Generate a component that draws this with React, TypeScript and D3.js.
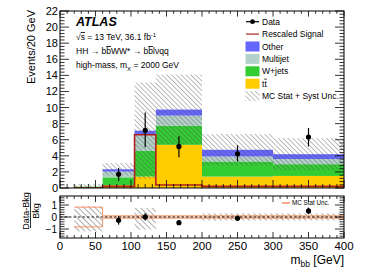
import { useEffect } from 'react';
import * as d3 from 'd3';

// bin edges in GeV
const binEdges = [20, 60, 105, 135, 200, 300, 400];

// stacked backgrounds (Events/20 GeV), bottom to top
const ttbar = [0.02, 0.35, 1.42, 5.37, 1.42, 1.5];
const wjets = [0.15, 0.98, 3.2, 2.38, 1.88, 1.46];
const multijet = [0, 0.71, 2.08, 1.25, 0.62, 0.64];
const other = [0, 0.29, 0.42, 0.75, 0.83, 0.6];
const bkgUnc = [0.33, 0.77, 6.0, 4.35, 1.95, 2.0];
const signal = [0, 0.2, 6.62, 0.37, 0.2, 0.2];

// data points
const dataX = [82.5, 120, 167.5, 250, 350];
const dataY = [1.7, 7.17, 5.17, 4.25, 6.33];
const dataErrUp = [0.8, 2.2, 1.25, 1.05, 1.13];
const dataErrDn = [0.85, 2.1, 1.35, 0.95, 1.16];
const dataBin = [1, 2, 3, 4, 5];

// ratio panel bands
const ratioStat = [0.82, 0.1, 0.1, 0.1, 0.1, 0.1];
const ratioHatchUp = [0.9, 0, 0.75, 0, 0.3, 0.3];
const ratioHatchDn = [1.2, 0, 1.05, 0, 0.3, 0.3];

const xTicks = [0, 50, 100, 150, 200, 250, 300, 350, 400];
const yTicks = [0, 2, 4, 6, 8, 10, 12, 14, 16, 18, 20, 22];
const rTicks = [-1, 0, 1];

const COLORS = {
  ttbar: '#ffcc00',
  wjets: '#33cc33',
  multijet: '#b3d1c9',
  other: '#6666ff',
  signal: '#b01e1e',
  stat: '#f7966b',
};

const FONT = '"Liberation Sans", Arial, Helvetica, sans-serif';

const L = 60;
const R = 344;
const MT = 11;
const MB = 188;
const RT = 196;
const RB = 238;

export default function App() {
  useEffect(() => {
    document.body.style.margin = '0';
  }, []);

  const x = d3.scaleLinear().domain([0, 400]).range([L, R]);
  const y = d3.scaleLinear().domain([0, 22]).range([MB, MT]);
  const yr = d3.scaleLinear().domain([-1.75, 1.75]).range([RB, RT]);

  const bins = binEdges.slice(0, -1).map((lo, i) => ({ lo, hi: binEdges[i + 1], i }));

  const stacks = [ttbar, wjets, multijet, other];
  const stackColors = [COLORS.ttbar, COLORS.wjets, COLORS.multijet, COLORS.other];
  const total = bins.map((b) => stacks.reduce((s, a) => s + a[b.i], 0));

  const stackRects: JSX.Element[] = [];
  bins.forEach((b) => {
    let base = 0;
    stacks.forEach((arr, k) => {
      const v = arr[b.i];
      if (v > 0) {
        stackRects.push(
          <rect
            key={`s${b.i}-${k}`}
            x={x(b.lo)}
            width={x(b.hi) - x(b.lo)}
            y={y(base + v)}
            height={y(base) - y(base + v)}
            fill={stackColors[k]}
          />
        );
      }
      base += v;
    });
  });

  // signal step line
  const sigPts: [number, number][] = [];
  bins.forEach((b) => {
    sigPts.push([b.lo, signal[b.i]]);
    sigPts.push([b.hi, signal[b.i]]);
  });
  const sigLine = d3
    .line<[number, number]>()
    .x((d) => x(d[0]))
    .y((d) => y(d[1]))(sigPts);

  // stat band step lines in ratio
  const statPts: [number, number][] = [];
  bins.forEach((b) => {
    statPts.push([b.lo, ratioStat[b.i]]);
    statPts.push([b.hi, ratioStat[b.i]]);
  });
  const statUp = d3
    .line<[number, number]>()
    .x((d) => x(d[0]))
    .y((d) => yr(d[1]))(statPts);
  const statDn = d3
    .line<[number, number]>()
    .x((d) => x(d[0]))
    .y((d) => yr(-d[1]))(statPts);

  const ratioY = dataY.map((v, j) => (v - total[dataBin[j]]) / total[dataBin[j]]);
  const ratioUp = dataErrUp.map((e, j) => e / total[dataBin[j]]);
  const ratioDn = dataErrDn.map((e, j) => e / total[dataBin[j]]);

  // ticks for frames
  const ticks: JSX.Element[] = [];
  const tk = (key: string, x1: number, y1: number, x2: number, y2: number) =>
    ticks.push(<line key={key} x1={x1} y1={y1} x2={x2} y2={y2} stroke="#000" strokeWidth={0.8} />);

  d3.range(0, 401, 10).forEach((v) => {
    const major = v % 50 === 0;
    const px = x(v);
    const lm = major ? 8 : 4;
    tk(`mxb${v}`, px, MB, px, MB - lm);
    tk(`mxt${v}`, px, MT, px, MT + lm * 0.7);
    const lr = major ? 6 : 3;
    tk(`rxb${v}`, px, RB, px, RB - lr);
    tk(`rxt${v}`, px, RT, px, RT + lr);
  });
  d3.range(0, 22.001, 0.4).forEach((v) => {
    const major = Math.abs(v / 2 - Math.round(v / 2)) < 1e-6;
    const py = y(v);
    const l = major ? 9 : 4.5;
    tk(`myl${v}`, L, py, L + l, py);
    tk(`myr${v}`, R, py, R - l, py);
  });
  d3.range(-1.6, 1.601, 0.2).forEach((v) => {
    const major = Math.abs(v - Math.round(v)) < 1e-6;
    const py = yr(v);
    const l = major ? 9 : 4.5;
    tk(`ryl${v.toFixed(1)}`, L, py, L + l, py);
    tk(`ryr${v.toFixed(1)}`, R, py, R - l, py);
  });

  const legendRows = [
    { label: 'Data', kind: 'data' },
    { label: 'Rescaled Signal', kind: 'signal' },
    { label: 'Other', kind: 'box', color: COLORS.other },
    { label: 'Multijet', kind: 'box', color: COLORS.multijet },
    { label: 'W+jets', kind: 'box', color: COLORS.wjets },
    { label: 'tt', kind: 'box', color: COLORS.ttbar },
    { label: 'MC Stat + Syst Unc.', kind: 'hatch' },
  ];

  const over = { textDecoration: 'overline' };

  return (
    <svg width={374} height={272} style={{ display: 'block', fontFamily: FONT }}>
      <defs>
        <pattern id="hatch" patternUnits="userSpaceOnUse" width={3.4} height={3.4} patternTransform="rotate(-45)">
          <line x1={0} y1={0} x2={0} y2={3.4} stroke="#555" strokeWidth={0.8} />
        </pattern>
        <pattern id="hatchR" patternUnits="userSpaceOnUse" width={4} height={4} patternTransform="rotate(-45)">
          <line x1={0} y1={0} x2={0} y2={4} stroke="#444" strokeWidth={0.9} />
        </pattern>
        <clipPath id="mainClip">
          <rect x={L} y={MT} width={R - L} height={MB - MT} />
        </clipPath>
      </defs>
      <rect width={374} height={272} fill="#fff" />

      {/* main panel */}
      <g clipPath="url(#mainClip)">
        {stackRects}
        {bins.map((b) => (
          <rect
            key={`h${b.i}`}
            x={x(b.lo)}
            width={x(b.hi) - x(b.lo)}
            y={y(total[b.i] + bkgUnc[b.i])}
            height={y(Math.max(0, total[b.i] - bkgUnc[b.i])) - y(total[b.i] + bkgUnc[b.i])}
            fill="url(#hatch)"
          />
        ))}
        <path d={sigLine ?? ''} fill="none" stroke={COLORS.signal} strokeWidth={1.6} />
        {dataX.map((dx, j) => (
          <g key={`d${j}`}>
            <line
              x1={x(dx)}
              x2={x(dx)}
              y1={y(dataY[j] + dataErrUp[j])}
              y2={y(dataY[j] - dataErrDn[j])}
              stroke="#000"
              strokeWidth={1.2}
            />
            <circle cx={x(dx)} cy={y(dataY[j])} r={2.6} fill="#000" />
          </g>
        ))}
      </g>

      {/* ratio panel */}
      {bins.map((b) =>
        ratioStat[b.i] < 0.3 ? (
          <rect
            key={`sf${b.i}`}
            x={x(b.lo)}
            width={x(b.hi) - x(b.lo)}
            y={yr(ratioStat[b.i])}
            height={yr(-ratioStat[b.i]) - yr(ratioStat[b.i])}
            fill="#fde0d0"
          />
        ) : null
      )}
      {bins.map((b) =>
        ratioHatchUp[b.i] > 0 ? (
          <rect
            key={`rh${b.i}`}
            x={x(b.lo)}
            width={x(b.hi) - x(b.lo)}
            y={yr(ratioHatchUp[b.i])}
            height={yr(-ratioHatchDn[b.i]) - yr(ratioHatchUp[b.i])}
            fill="url(#hatchR)"
          />
        ) : null
      )}
      <path d={statUp ?? ''} fill="none" stroke={COLORS.stat} strokeWidth={1} />
      <path d={statDn ?? ''} fill="none" stroke={COLORS.stat} strokeWidth={1} />
      <line x1={L} x2={R} y1={yr(0)} y2={yr(0)} stroke="#000" strokeWidth={0.9} strokeDasharray="2.5,2" />
      {dataX.map((dx, j) => (
        <g key={`r${j}`}>
          <line
            x1={x(dx)}
            x2={x(dx)}
            y1={yr(ratioY[j] + ratioUp[j])}
            y2={yr(ratioY[j] - ratioDn[j])}
            stroke="#000"
            strokeWidth={1.2}
          />
          <circle cx={x(dx)} cy={yr(ratioY[j])} r={2.6} fill="#000" />
        </g>
      ))}
      <line x1={282} x2={290} y1={203} y2={203} stroke={COLORS.stat} strokeWidth={1.6} />
      <text x={292} y={205.3} fontSize={6.3} fill="#000">MC Stat Unc.</text>

      {/* frames and ticks */}
      <rect x={L} y={MT} width={R - L} height={MB - MT} fill="none" stroke="#000" strokeWidth={1} />
      <rect x={L} y={RT} width={R - L} height={RB - RT} fill="none" stroke="#000" strokeWidth={1} />
      {ticks}

      {/* tick labels */}
      {yTicks.map((v) => (
        <text key={`yl${v}`} x={58} y={y(v) + 4} fontSize={11} textAnchor="end">
          {v}
        </text>
      ))}
      {rTicks.map((v) => (
        <text key={`rl${v}`} x={57} y={yr(v) + 3.6} fontSize={10} textAnchor="end">
          {v < 0 ? `\u2212${Math.abs(v)}` : v}
        </text>
      ))}
      {xTicks.map((v) => (
        <text key={`xl${v}`} x={x(v)} y={250} fontSize={11.5} textAnchor="middle">
          {v}
        </text>
      ))}

      {/* axis titles */}
      <text transform="translate(35,10) rotate(-90)" fontSize={11} textAnchor="end">
        Events/20 GeV
      </text>
      <text transform="translate(28.5,211) rotate(-90)" fontSize={9} textAnchor="middle">
        Data-Bkg
      </text>
      <line x1={30.5} x2={30.5} y1={196} y2={228} stroke="#000" strokeWidth={0.8} />
      <text transform="translate(38.5,211) rotate(-90)" fontSize={9} textAnchor="middle">
        Bkg
      </text>
      <text x={344} y={264} fontSize={12} textAnchor="end">
        m<tspan dy={2.5} fontSize={8.5}>bb</tspan>
        <tspan dy={-2.5}> [GeV]</tspan>
      </text>

      {/* labels */}
      <text x={76} y={26} fontSize={12.5} fontWeight="bold" fontStyle="italic">
        ATLAS
      </text>
      <text x={76} y={40} fontSize={8.5}>
        {'\u221A'}
        <tspan style={over}>s</tspan>
        {' = 13 TeV, 36.1 fb'}
        <tspan dy={-3.5} fontSize={6}>-1</tspan>
      </text>
      <text x={76} y={54} fontSize={8.5}>
        {'HH \u2192 b'}
        <tspan style={over}>b</tspan>
        {'WW* \u2192 b'}
        <tspan style={over}>b</tspan>
        {'l\u03BDqq'}
      </text>
      <text x={76} y={68} fontSize={8.5}>
        high-mass, m<tspan dy={2.5} fontSize={6}>X</tspan>
        <tspan dy={-2.5}> = 2000 GeV</tspan>
      </text>

      {/* legend */}
      {legendRows.map((r, k) => {
        const cy = 21.7 + k * 12.4;
        return (
          <g key={`lg${k}`}>
            {r.kind === 'data' && (
              <g>
                <line x1={246} x2={259} y1={cy} y2={cy} stroke="#000" strokeWidth={1.2} />
                <circle cx={252.5} cy={cy} r={2.4} fill="#000" />
              </g>
            )}
            {r.kind === 'signal' && (
              <line x1={246} x2={259} y1={cy} y2={cy} stroke="#c05a5a" strokeWidth={1.6} />
            )}
            {r.kind === 'box' && <rect x={245.5} y={cy - 5} width={14} height={10} fill={r.color} />}
            {r.kind === 'hatch' && <rect x={245.5} y={cy - 5} width={14} height={10} fill="url(#hatch)" />}
            <text x={262} y={cy + 3} fontSize={8.5}>
              {r.label === 'tt' ? (
                <>
                  t<tspan style={over}>t</tspan>
                </>
              ) : (
                r.label
              )}
            </text>
          </g>
        );
      })}
    </svg>
  );
}
